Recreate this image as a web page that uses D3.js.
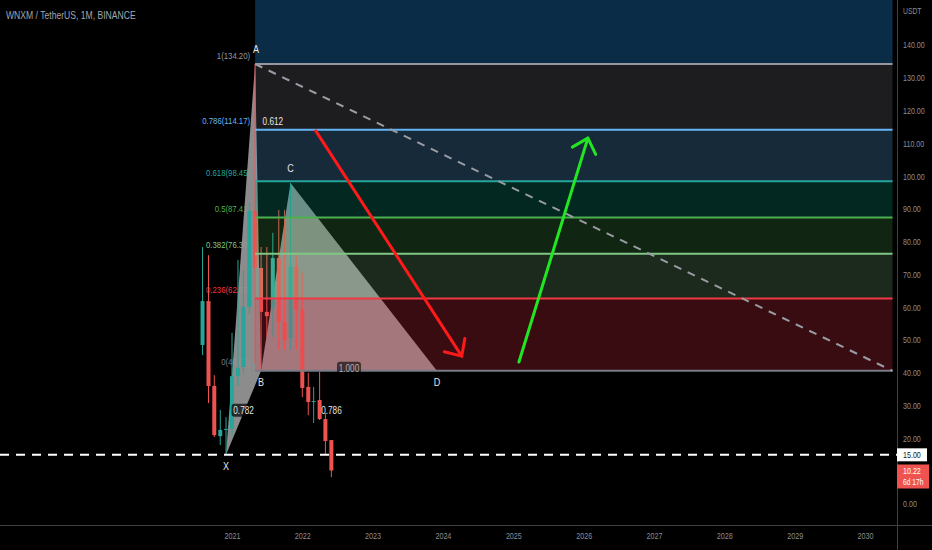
<!DOCTYPE html>
<html><head><meta charset="utf-8">
<script src="https://cdn.jsdelivr.net/npm/d3@7"></script>
<style>
html,body{margin:0;padding:0;background:#000;}
svg{display:block;}
text{font-family:"Liberation Sans",Arial,sans-serif;}
</style></head><body>
<svg id="chart" width="932" height="550"></svg>
<script>
// ---------- data ----------
const title = "WNXM / TetherUS, 1M, BINANCE";
const months = ["2020-08","2020-09","2020-10","2020-11","2020-12","2021-01","2021-02","2021-03","2021-04","2021-05","2021-06","2021-07","2021-08","2021-09","2021-10","2021-11","2021-12","2022-01","2022-02","2022-03","2022-04","2022-05","2022-06"];
const opens  = [48.5, 61.9, 36.0, 20.7, 22.6, 22.9, 39.0, 41.8, 60.1, 89.4, 72.0, 58.6, 59.8, 75.0, 55.5, 50.6, 72.3, 59.2, 35.7, 31.1, 31.7, 25.9, 19.5];
const highs  = [78.4, 75.9, 39.3, 28.7, 26.5, 52.2, 74.4, 71.4, 92.0, 134.2, 78.4, 78.4, 82.7, 89.7, 89.7, 97.9, 75.9, 70.5, 40.0, 35.7, 40.3, 27.8, 19.5];
const lows   = [45.4, 30.8, 20.4, 18.0, 15.0, 21.0, 36.0, 40.0, 58.0, 43.0, 40.62, 50.9, 50.9, 47.0, 47.0, 47.0, 47.0, 32.6, 27.1, 24.7, 25.6, 14.9, 8.2];
const closes = [61.9, 36.0, 21.0, 22.6, 22.9, 39.0, 41.5, 60.1, 89.4, 72.0, 58.6, 57.3, 75.0, 55.5, 50.0, 72.3, 59.2, 35.4, 31.1, 31.4, 25.9, 19.2, 10.22];

const priceTicks = [0,10,20,30,40,50,60,70,80,90,100,110,120,130,140];
const yearTicks = [2021,2022,2023,2024,2025,2026,2027,2028,2029,2030];

// Fibonacci retracement (anchored from A down to the 0 level)
const fibRatios = [1.618, 1, 0.786, 0.618, 0.5, 0.382, 0.236, 0];
const fibPrices = [192.03, 134.20, 114.17, 98.45, 87.41, 76.30, 62.70, 40.62];
const fibStart = "2021-05-01";
const fibEnd = "2030-05-24";
const fibLineColors = ["#2196f3","#9598a1","#64b5f6","#26a69a","#4caf50","#81c784","#f23645","#787b86"];
const fibZoneColors = ["#2196f3","#787b86","#64b5f6","#089981","#4caf50","#81c784","#f23645"];
const fibZoneAlpha  = [0.29, 0.24, 0.23, 0.26, 0.22, 0.21, 0.23];

// XABCD harmonic pattern
const patternNames = ["X","A","B","C","D"];
const patternDates = ["2020-12-01","2021-05-01","2021-06-01","2021-11-01","2023-12-01"];
const patternPrices = [15.0, 134.20, 40.62, 97.9, 40.62];
const ratioLabels = ["0.782","0.612","1.000","0.786"];
const ratioLegs = [["X","B"],["A","C"],["B","D"],["X","D"]];
const ratioBoxAlpha = [0.7, 0, 0.6, 0];

// trend line & arrows
const trendDates = ["2021-05-01","2030-05-24"];
const trendPrices = [134.20, 40.62];
const redArrowDates = ["2022-03-12","2024-04-08"];
const redArrowPrices = [113.8, 45.1];
const greenArrowDates = ["2025-01-30","2026-01-23"];
const greenArrowPrices = [43.3, 111.6];

const hLinePrice = 15.00;
const lastPrice = 10.22;
const countdown = "6d 17h";

// ---------- layout ----------
const W = 932, H = 550, plotR = 897, plotB = 525;
const svg = d3.select("#chart");
svg.append("rect").attr("width", W).attr("height", H).attr("fill", "#000");

const parse = d3.timeParse("%Y-%m-%d");
const parseM = d3.timeParse("%Y-%m");
const x = d3.scaleTime().domain([new Date(2021,0,1), new Date(2030,0,1)]).range([232, 865]);
const y = d3.scaleLinear().domain([0, 140]).range([504, 45]);

function txt(parent, tx, ty, s, size, fill, anchor, sx) {
  return parent.append("text")
    .attr("transform", `translate(${tx},${ty}) scale(${sx || 0.86},1)`)
    .attr("text-anchor", anchor || "start").attr("font-size", size + "px").attr("fill", fill).text(s);
}

svg.append("clipPath").attr("id","plot").append("rect").attr("x",0).attr("y",0).attr("width",plotR).attr("height",plotB);
const g = svg.append("g").attr("clip-path","url(#plot)");

const fx0 = x(parse(fibStart)), fx1 = x(parse(fibEnd));

// fib labels (left of anchor, partly covered by the pattern)
for (let i = 1; i < fibPrices.length; i++) {
  txt(g, fx0 - 5, y(fibPrices[i]) - 5.5, fibRatios[i] + "(" + fibPrices[i].toFixed(2) + ")", 9.5, fibLineColors[i], "end", 0.82);
}

// pattern triangles
const P = {};
patternNames.forEach((n,i) => P[n] = [x(parse(patternDates[i])), y(patternPrices[i])]);
const tri = pts => "M" + pts.map(p => p.join(",")).join("L") + "Z";
g.append("path").attr("d", tri([P.X, P.A, P.B])).attr("fill", "#979797").attr("fill-opacity", 0.93);
g.append("path").attr("d", tri([P.B, P.C, P.D])).attr("fill", "#979797").attr("fill-opacity", 0.93);

// candles
const candles = months.map((m,i) => ({d: parseM(m), o: opens[i], h: highs[i], l: lows[i], c: closes[i]}));
const cg = g.append("g");
candles.forEach(k => {
  const cx = x(k.d);
  const col = k.c >= k.o ? "#26a69a" : "#ef5350";
  cg.append("line").attr("x1", cx).attr("x2", cx).attr("y1", y(k.h)).attr("y2", y(k.l)).attr("stroke", col).attr("stroke-width", 1);
  const top = y(Math.max(k.o, k.c)), bot = y(Math.min(k.o, k.c));
  cg.append("rect").attr("x", cx - 2).attr("width", 4).attr("y", top).attr("height", Math.max(1, bot - top)).attr("fill", col);
});

// fib zones (semi-transparent, over pattern and candles)
for (let i = 0; i < fibZoneColors.length; i++) {
  const yt = y(fibPrices[i]), yb = y(fibPrices[i+1]);
  g.append("rect").attr("x", fx0).attr("y", yt).attr("width", fx1 - fx0).attr("height", yb - yt)
    .attr("fill", fibZoneColors[i]).attr("fill-opacity", fibZoneAlpha[i]);
}

// fib lines
for (let i = 1; i < fibPrices.length; i++) {
  g.append("line").attr("x1", fx0).attr("x2", fx1).attr("y1", y(fibPrices[i])).attr("y2", y(fibPrices[i]))
    .attr("stroke", fibLineColors[i]).attr("stroke-width", 2);
}

// trend dashed line
g.append("line")
  .attr("x1", x(parse(trendDates[0]))).attr("y1", y(trendPrices[0]))
  .attr("x2", x(parse(trendDates[1]))).attr("y2", y(trendPrices[1]))
  .attr("stroke", "#9a9ca3").attr("stroke-width", 2).attr("stroke-dasharray", "8,7");

// horizontal dashed line at 15
g.append("line").attr("x1", 0).attr("x2", plotR).attr("y1", y(hLinePrice)).attr("y2", y(hLinePrice))
  .attr("stroke", "#ffffff").attr("stroke-width", 2).attr("stroke-dasharray", "9,7");

// arrows
function arrow(dates, prices, color) {
  const x1 = x(parse(dates[0])), y1 = y(prices[0]), x2 = x(parse(dates[1])), y2 = y(prices[1]);
  g.append("line").attr("x1", x1).attr("y1", y1).attr("x2", x2).attr("y2", y2)
    .attr("stroke", color).attr("stroke-width", 3).attr("stroke-linecap", "round");
  const ang = Math.atan2(y1 - y2, x1 - x2), L = 18, sp = Math.PI / 4.2;
  const path = `M${x2 + L*Math.cos(ang+sp)},${y2 + L*Math.sin(ang+sp)}L${x2},${y2}L${x2 + L*Math.cos(ang-sp)},${y2 + L*Math.sin(ang-sp)}`;
  g.append("path").attr("d", path).attr("fill", "none").attr("stroke", color).attr("stroke-width", 3)
    .attr("stroke-linecap", "round").attr("stroke-linejoin", "round");
}
arrow(redArrowDates, redArrowPrices, "#ff1a1a");
arrow(greenArrowDates, greenArrowPrices, "#22e622");

// pattern ratio labels
ratioLabels.forEach((t,i) => {
  const a = P[ratioLegs[i][0]], b = P[ratioLegs[i][1]];
  const mx = (a[0] + b[0]) / 2, my = (a[1] + b[1]) / 2 - 2;
  if (ratioBoxAlpha[i] > 0) {
    g.append("rect").attr("x", mx - 12).attr("y", my - 7).attr("width", 24).attr("height", 13).attr("rx", 3)
      .attr("fill", "#000").attr("fill-opacity", ratioBoxAlpha[i]);
  }
  txt(g, mx, my + 3.5, t, 10, t === "1.000" ? "#b9aeae" : "#e6e6e6", "middle", 0.82);
});

// pattern point letters
patternNames.forEach(n => {
  const up = (n === "A" || n === "C");
  txt(g, P[n][0] + (n === "A" ? 1 : 0), P[n][1] + (up ? -11 : 15), n, 10, "#e6e6e6", "middle", 0.9);
});

// ---------- axes ----------
svg.append("line").attr("x1", 0).attr("x2", W).attr("y1", plotB + 0.5).attr("y2", plotB + 0.5).attr("stroke", "#3f3f44");
svg.append("line").attr("x1", plotR + 0.5).attr("x2", plotR + 0.5).attr("y1", 0).attr("y2", H).attr("stroke", "#3f3f44");

const yAxis = svg.append("g").attr("transform", `translate(${plotR},0)`)
  .call(d3.axisRight(y).tickValues(priceTicks).tickFormat(d3.format(".2f")).tickSize(0).tickPadding(0));
yAxis.select(".domain").remove();
yAxis.selectAll("text").attr("fill", "#8a8d96").attr("font-size", "9px").attr("x", null)
  .attr("transform", "translate(6,0) scale(0.79,1)");

const xAxis = svg.append("g").attr("transform", `translate(0,${plotB})`)
  .call(d3.axisBottom(x).tickValues(yearTicks.map(v => new Date(v,0,1))).tickFormat(d3.timeFormat("%Y")).tickSize(0).tickPadding(8));
xAxis.select(".domain").remove();
xAxis.selectAll("text").attr("fill", "#8a8d96").attr("font-size", "9px").attr("transform", "scale(0.8,1)");
xAxis.selectAll(".tick").each(function() {
  // keep each label centred on its tick after horizontal scaling
  const t = d3.select(this), tr = t.attr("transform");
  t.select("text").attr("transform", "scale(0.8,1)");
});

txt(svg, plotR + 6, 14, "USDT", 8.5, "#8a8d96", "start", 0.8);

// price labels on axis
const yh = y(hLinePrice);
svg.append("rect").attr("x", plotR).attr("y", yh - 6.5).attr("width", 30).attr("height", 13).attr("fill", "#ffffff");
txt(svg, plotR + 6, yh + 3.5, hLinePrice.toFixed(2), 9, "#131722", "start", 0.79);

const yl = y(lastPrice);
svg.append("rect").attr("x", plotR).attr("y", yl - 6).attr("width", 32).attr("height", 24).attr("fill", "#ef5350");
txt(svg, plotR + 6, yl + 3.5, lastPrice.toFixed(2), 9, "#ffffff", "start", 0.79);
txt(svg, plotR + 6, yl + 14.5, countdown, 8.5, "#ffffff", "start", 0.79);

// title
txt(svg, 6, 18.5, title, 10, "#a3a6ad", "start", 0.86);
</script>
</body></html>
